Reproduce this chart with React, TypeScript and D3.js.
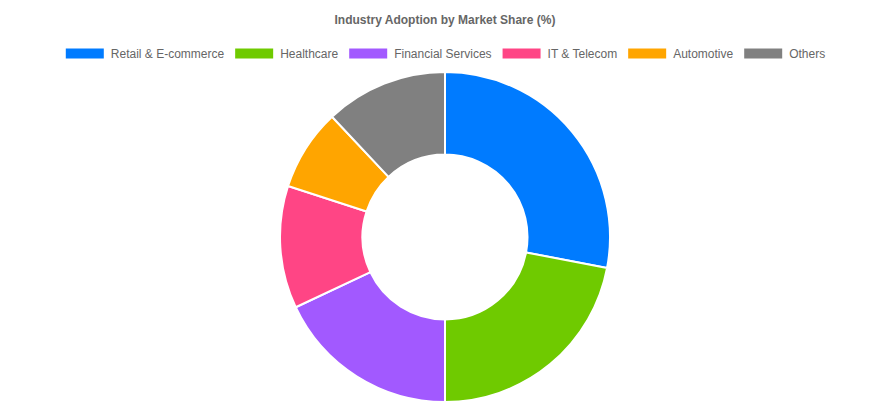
import React, { useRef, useEffect } from 'react';
import * as d3 from 'd3';

const categories = ['Retail & E-commerce', 'Healthcare', 'Financial Services', 'IT & Telecom', 'Automotive', 'Others'];
const shares = [28, 22, 18, 12, 8, 12];
const sliceColors = ['#007bff', '#6fca00', '#a259ff', '#ff4585', '#ffa500', '#808080'];

const WIDTH = 889;
const HEIGHT = 414;

const App: React.FC = () => {
    const ref = useRef<SVGSVGElement>(null);

    useEffect(() => {
        if (!ref.current) return;
        const svg = d3.select(ref.current);
        svg.selectAll("*").remove();

        const font = '"Liberation Sans", Arial, Helvetica, sans-serif';
        const cx = 445;
        const cy = 237;
        const outer = 165;
        const inner = outer * 0.5;

        // title
        svg.append("text")
            .attr("x", cx)
            .attr("y", 20)
            .attr("text-anchor", "middle")
            .attr("dominant-baseline", "central")
            .style("font-family", font)
            .style("font-size", "12px")
            .style("font-weight", "bold")
            .style("fill", "#666")
            .text("Industry Adoption by Market Share (%)");

        // legend: measure, then center the row
        const legend = svg.append("g");
        const items = legend.selectAll("g.item")
            .data(categories)
            .enter()
            .append("g")
            .attr("class", "item");

        items.append("rect")
            .attr("width", 40)
            .attr("height", 12)
            .attr("y", -6)
            .attr("fill", (_, i) => sliceColors[i])
            .attr("stroke", "#fff")
            .attr("stroke-width", 2);

        const labels = items.append("text")
            .attr("x", 46)
            .attr("dominant-baseline", "central")
            .style("font-family", font)
            .style("font-size", "12px")
            .style("fill", "#666")
            .text(d => d);

        const widths: number[] = [];
        labels.each(function () {
            widths.push(46 + (this as SVGTextElement).getComputedTextLength());
        });
        const total = d3.sum(widths) + 10 * (widths.length - 1);
        let xPos = cx - total / 2;
        const offsets = widths.map(w => { const o = xPos; xPos += w + 10; return o; });
        items.attr("transform", (_, i) => `translate(${offsets[i]},53.5)`);

        // doughnut
        const pie = d3.pie<number>().sort(null).value(d => d);
        const arc = d3.arc<d3.PieArcDatum<number>>().innerRadius(inner).outerRadius(outer);

        svg.append("g")
            .attr("transform", `translate(${cx},${cy})`)
            .selectAll("path")
            .data(pie(shares))
            .enter()
            .append("path")
            .attr("d", arc)
            .attr("fill", (_, i) => sliceColors[i])
            .attr("stroke", "#fff")
            .attr("stroke-width", 2)
            .attr("stroke-linejoin", "bevel");
    }, []);

    return (
        <div style={{ position: 'absolute', left: 0, top: 0, width: WIDTH, height: HEIGHT, background: '#fff' }}>
            <svg ref={ref} width={WIDTH} height={HEIGHT}></svg>
        </div>
    );
};

export default App;
